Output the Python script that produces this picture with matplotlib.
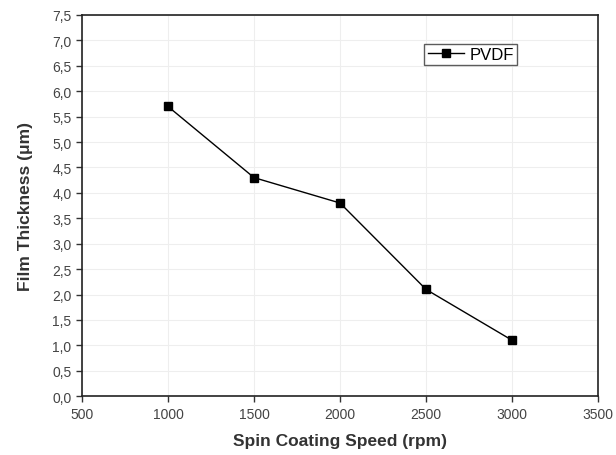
import matplotlib
matplotlib.use("Agg")
import matplotlib.pyplot as plt
from matplotlib.ticker import FuncFormatter, MultipleLocator

speed = [1000, 1500, 2000, 2500, 3000]
thickness = [5.7, 4.3, 3.8, 2.1, 1.1]
series_name = "PVDF"

plt.rcParams['font.family'] = ['Liberation Sans', 'DejaVu Sans']

fig = plt.figure(figsize=(6.16, 4.56), dpi=100)
ax = fig.add_axes([0.133, 0.129, 0.838, 0.836])

ax.plot(speed, thickness, color='black', lw=1.0, marker='s', ms=5.5,
        mfc='black', mec='black', label=series_name)

ax.set_xlim(500, 3500)
ax.set_ylim(0, 7.5)
ax.xaxis.set_major_locator(MultipleLocator(500))
ax.yaxis.set_major_locator(MultipleLocator(0.5))
ax.yaxis.set_major_formatter(FuncFormatter(lambda v, p: f"{v:.1f}".replace('.', ',')))

ax.grid(True, color='#eeeeee', lw=0.8)
ax.set_axisbelow(True)

for s in ax.spines.values():
    s.set_linewidth(1.2)
    s.set_color('#222222')

ax.tick_params(direction='out', length=4, width=1, colors='#333333', labelsize=10,
               top=False, right=False)
for lbl in ax.get_xticklabels() + ax.get_yticklabels():
    lbl.set_color('#444444')

ax.set_xlabel("Spin Coating Speed (rpm)", fontsize=12.5, fontweight='bold', color='#333333', labelpad=9)
ax.set_ylabel("Film Thickness (\u03bcm)", fontsize=12.5, fontweight='bold', color='#333333', labelpad=14)

leg = ax.legend(loc='upper left', bbox_to_anchor=(0.663, 0.925), fontsize=12, frameon=True,
                fancybox=False, edgecolor='#333333', borderpad=0.2, handlelength=2.2,
                handletextpad=0.3, borderaxespad=0)
leg.get_frame().set_linewidth(1.0)

fig.savefig("out.png", dpi=100, facecolor='white')
